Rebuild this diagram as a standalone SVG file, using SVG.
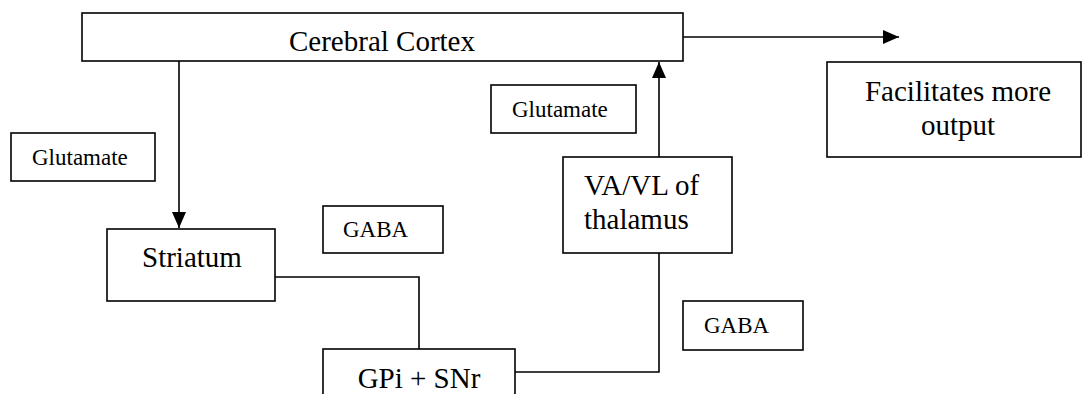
<svg xmlns="http://www.w3.org/2000/svg" width="1083" height="394" viewBox="0 0 1083 394">
<style>
.box{fill:#fff;stroke:#000;stroke-width:1.6}
.conn{fill:none;stroke:#000;stroke-width:1.6}
text{font-family:'Liberation Serif','DejaVu Serif','Times New Roman',serif;fill:#000}
.main{font-size:29px}
.small{font-size:23px}
</style>
<defs>
<marker id="arr" viewBox="0 0 16 14" refX="16" refY="7" markerWidth="16" markerHeight="14" markerUnits="userSpaceOnUse" orient="auto">
<path d="M0,0 L16,7 L0,14 Z" fill="#000"/>
</marker>
</defs>
<rect width="1083" height="394" fill="#fff"/>
<g id="connectors">
<line class="conn" x1="179" y1="61" x2="179" y2="228" marker-end="url(#arr)"/>
<line class="conn" x1="659" y1="157" x2="659" y2="62" marker-end="url(#arr)"/>
<line class="conn" x1="683" y1="37" x2="899" y2="37" marker-end="url(#arr)"/>
<path class="conn" d="M275,277 H419 V349"/>
<path class="conn" d="M515,372 H659 V253"/>
</g>
<g id="cortex">
<rect class="box" x="82" y="13" width="601" height="48"/>
<text class="main" x="382" y="51" text-anchor="middle">Cerebral Cortex</text>
</g>
<g id="facilitates">
<rect class="box" x="827" y="62" width="254" height="95"/>
<text class="main" x="958" y="101" text-anchor="middle">Facilitates more</text>
<text class="main" x="958" y="135" text-anchor="middle">output</text>
</g>
<g id="glutamate-left">
<rect class="box" x="11" y="133" width="144" height="48"/>
<text class="small" x="32" y="165">Glutamate</text>
</g>
<g id="glutamate-right">
<rect class="box" x="491" y="85" width="145" height="48"/>
<text class="small" x="512" y="117">Glutamate</text>
</g>
<g id="striatum">
<rect class="box" x="107" y="229" width="168" height="72"/>
<text class="main" x="142" y="267">Striatum</text>
</g>
<g id="gaba-mid">
<rect class="box" x="323" y="206" width="120" height="47"/>
<text class="small" x="343" y="237">GABA</text>
</g>
<g id="vavl">
<rect class="box" x="563" y="157" width="169" height="96"/>
<text class="main" x="584" y="195">VA/VL of</text>
<text class="main" x="584" y="229">thalamus</text>
</g>
<g id="gaba-right">
<rect class="box" x="683" y="301" width="120" height="49"/>
<text class="small" x="704" y="333">GABA</text>
</g>
<g id="gpi-snr">
<rect class="box" x="323" y="349" width="192" height="60"/>
<text class="main" x="419" y="388" text-anchor="middle">GPi + SNr</text>
</g>
</svg>
